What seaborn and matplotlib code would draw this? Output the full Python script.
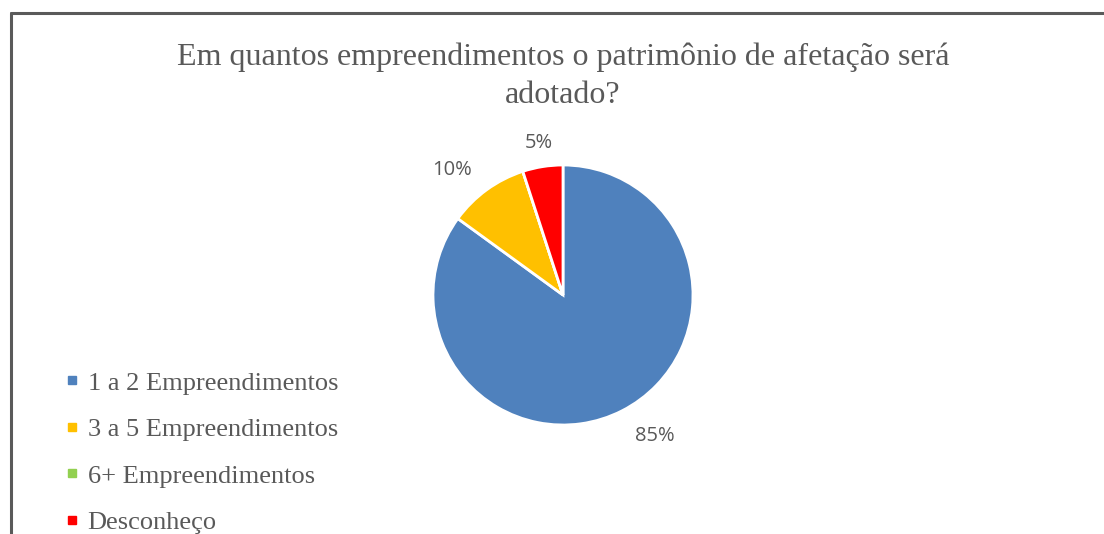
import numpy as np
import matplotlib
matplotlib.use("Agg")
import matplotlib.pyplot as plt
from matplotlib.lines import Line2D
import seaborn as sns

title = "Em quantos empreendimentos o patrimônio de afetação será\nadotado?"
categories = ["1 a 2 Empreendimentos", "3 a 5 Empreendimentos", "6+ Empreendimentos", "Desconheço"]
values = [85, 10, 0, 5]
colors = ["#4F81BD", "#FFC000", "#92D050", "#FF0000"]
label_dist = [1.22, 1.19, 1.0, 1.18]
label_ha = ["left", "right", "center", "center"]

sns.set_theme(style="white")
plt.rcParams['font.family'] = ['Liberation Serif', 'DejaVu Serif']

W, H = 1104, 534
fig = plt.figure(figsize=(W / 100, H / 100), dpi=100)
fig.patch.set_facecolor("white")

# frame lines (top and left)
fig.add_artist(Line2D([11 / W, 1.0], [1 - 13 / H, 1 - 13 / H], transform=fig.transFigure,
                      color="#5a5a5a", lw=2.2))
fig.add_artist(Line2D([11 / W, 11 / W], [0, 1 - 13 / H], transform=fig.transFigure,
                      color="#5a5a5a", lw=2.2))

cx, cy, r = 563, 295, 130
ax = fig.add_axes([(cx - r) / W, (H - cy - r) / H, 2 * r / W, 2 * r / H])
wedges, _ = ax.pie(values, colors=colors, startangle=90, counterclock=False,
                   wedgeprops=dict(edgecolor="white", linewidth=2))
ax.set_xlim(-1, 1)
ax.set_ylim(-1, 1)
ax.set_aspect("equal")
ax.axis("off")

for w, v, d, ha in zip(wedges, values, label_dist, label_ha):
    if v == 0:
        continue
    ang = np.deg2rad((w.theta1 + w.theta2) / 2)
    ax.text(d * np.cos(ang), d * np.sin(ang), f"{v}%", ha=ha, va="center",
            fontsize=14.5, color="#595959", family=["Open Sans", "DejaVu Sans"],
            clip_on=False)

fig.text(cx / W, 1 - 76 / H, title, ha="center", va="center", fontsize=23,
         color="#595959", linespacing=1.4)

handles = [Line2D([0], [0], marker="s", linestyle="none", markersize=5.5,
                  markerfacecolor=c, markeredgecolor=c) for c in colors]
leg = fig.legend(handles, categories, loc="upper left", bbox_to_anchor=(52 / W, 1 - 358 / H),
                 frameon=False, fontsize=19, labelcolor="#595959", handlelength=0.5,
                 handletextpad=0.35, labelspacing=0.87, borderpad=0)

fig.savefig("out.png", dpi=100)
